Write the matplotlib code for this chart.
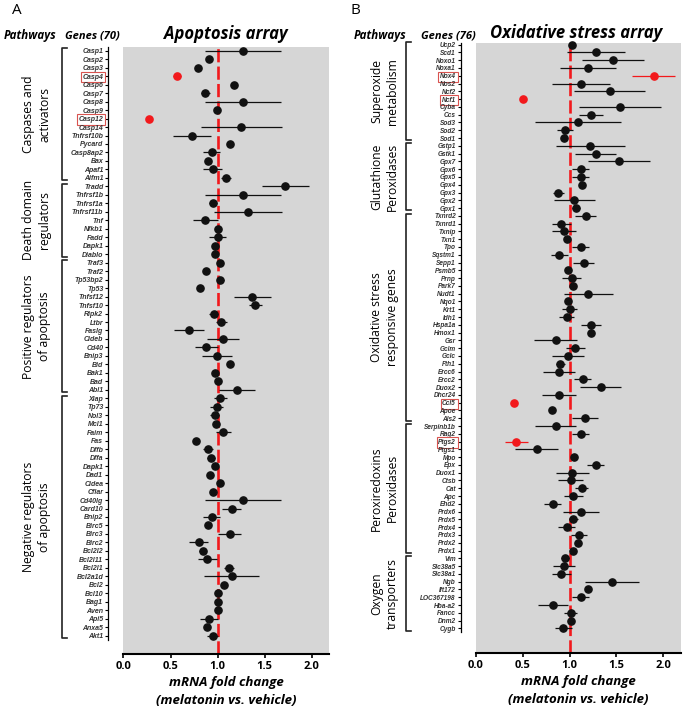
import numpy as np
import matplotlib
matplotlib.use('Agg')
import matplotlib.pyplot as plt

plt.rcParams['font.family'] = ['Open Sans', 'DejaVu Sans']

# ---------------- Apoptosis array (panel A) ----------------
apo_genes = ['Casp1', 'Casp2', 'Casp3', 'Casp4', 'Casp6', 'Casp7', 'Casp8', 'Casp9', 'Casp12', 'Casp14',
             'Tnfrsf10b', 'Pycard', 'Casp8ap2', 'Bax', 'Apaf1', 'Aifm1',
             'Tradd', 'Tnfrsf1b', 'Tnfrsf1a', 'Tnfrsf11b', 'Tnf', 'Nfkb1', 'Fadd', 'Dapk1', 'Diablo',
             'Traf3', 'Traf2', 'Tp53bp2', 'Tp53', 'Tnfsf12', 'Tnfsf10', 'Ripk2', 'Ltbr', 'Faslg', 'Cideb',
             'Cd40', 'Bnip3', 'Bid', 'Bak1', 'Bad', 'Abl1',
             'Xiap', 'Tp73', 'Nol3', 'Mcl1', 'Faim', 'Fas', 'Dffb', 'Dffa', 'Dapk1', 'Dad1', 'Cidea', 'Cflar',
             'Cd40lg', 'Card10', 'Bnip2', 'Birc5', 'Birc3', 'Birc2', 'Bcl2l2', 'Bcl2l11', 'Bcl2l1', 'Bcl2a1d',
             'Bcl2', 'Bcl10', 'Bag1', 'Aven', 'Api5', 'Anxa5', 'Akt1']
apo_fc = [1.27, 0.91, 0.79, 0.57, 1.17, 0.87, 1.27, 0.99, 0.27, 1.25,
          0.73, 1.13, 0.94, 0.90, 0.95, 1.09,
          1.72, 1.27, 0.95, 1.32, 0.87, 1.00, 1.00, 0.97, 0.97,
          1.03, 0.88, 1.03, 0.81, 1.37, 1.40, 0.96, 1.04, 0.70, 1.06,
          0.88, 0.99, 1.13, 0.97, 1.00, 1.21,
          1.03, 0.99, 0.97, 0.98, 1.06, 0.77, 0.90, 0.93, 0.97, 0.92, 1.03, 0.95,
          1.27, 1.15, 0.94, 0.90, 1.13, 0.80, 0.84, 0.89, 1.12, 1.15,
          1.07, 1.00, 1.01, 1.01, 0.91, 0.89, 0.95]
apo_err = [0.40, 0.00, 0.00, 0.04, 0.00, 0.05, 0.40, 0.00, 0.00, 0.43,
           0.20, 0.03, 0.09, 0.00, 0.10, 0.05,
           0.25, 0.40, 0.04, 0.36, 0.13, 0.00, 0.09, 0.00, 0.00,
           0.00, 0.00, 0.04, 0.00, 0.20, 0.07, 0.05, 0.06, 0.16, 0.17,
           0.12, 0.16, 0.00, 0.00, 0.00, 0.19,
           0.07, 0.07, 0.05, 0.00, 0.08, 0.00, 0.05, 0.04, 0.00, 0.00, 0.00, 0.00,
           0.40, 0.10, 0.09, 0.00, 0.12, 0.10, 0.04, 0.10, 0.05, 0.29,
           0.00, 0.00, 0.00, 0.00, 0.10, 0.00, 0.06]
apo_red = ['Casp4', 'Casp12']
apo_groups = [('Caspases and\nactivators', 16), ('Death domain\nregulators', 9),
              ('Positive regulators\nof apoptosis', 16), ('Negative regulators\nof apoptosis', 29)]

# ---------------- Oxidative stress array (panel B) ----------------
ox_genes = ['Ucp2', 'Scd1', 'Noxo1', 'Noxa1', 'Nox4', 'Nos2', 'Ncf2', 'Ncf1', 'Cyba', 'Ccs', 'Sod3', 'Sod2', 'Sod1',
            'Gstp1', 'Gstk1', 'Gpx7', 'Gpx6', 'Gpx5', 'Gpx4', 'Gpx3', 'Gpx2', 'Gpx1',
            'Txnrd2', 'Txnrd1', 'Txnip', 'Txn1', 'Tpo', 'Sqstm1', 'Sepp1', 'Psmb5', 'Prnp', 'Park7', 'Nudt1',
            'Nqo1', 'Krt1', 'Idh1', 'Hspa1a', 'Hmox1', 'Gsr', 'Gclm', 'Gclc', 'Fth1', 'Ercc6', 'Ercc2', 'Duox2',
            'Dhcr24', 'Ccl5', 'Apoe', 'Als2',
            'Serpinb1b', 'Rag2', 'Ptgs2', 'Ptgs1', 'Mpo', 'Epx', 'Duox1', 'Ctsb', 'Cat', 'Apc', 'Ehd2',
            'Prdx6', 'Prdx5', 'Prdx4', 'Prdx3', 'Prdx2', 'Prdx1',
            'Vim', 'Slc38a5', 'Slc38a1', 'Ngb', 'Ift172', 'LOC367198', 'Hba-a2', 'Fancc', 'Dnm2', 'Cygb']
ox_fc = [1.03, 1.28, 1.46, 1.20, 1.90, 1.12, 1.43, 0.50, 1.54, 1.23, 1.09, 0.95, 0.94,
         1.22, 1.28, 1.53, 1.12, 1.12, 1.13, 0.88, 1.05, 1.07,
         1.17, 0.91, 0.94, 0.97, 1.12, 0.89, 1.15, 0.98, 1.02, 1.04, 1.20,
         0.98, 1.00, 0.97, 1.23, 1.23, 0.85, 1.06, 0.98, 0.90, 0.89, 1.14, 1.33,
         0.89, 0.41, 0.81, 1.16,
         0.85, 1.12, 0.43, 0.65, 1.05, 1.28, 1.03, 1.01, 1.13, 1.04, 0.82,
         1.12, 1.04, 0.97, 1.10, 1.09, 1.04,
         0.95, 0.94, 0.91, 1.45, 1.20, 1.12, 0.82, 1.01, 1.01, 0.93]
ox_err = [0.00, 0.31, 0.33, 0.30, 0.23, 0.31, 0.38, 0.00, 0.44, 0.13, 0.46, 0.09, 0.00,
          0.37, 0.22, 0.33, 0.09, 0.09, 0.00, 0.06, 0.22, 0.04,
          0.11, 0.10, 0.13, 0.00, 0.09, 0.09, 0.11, 0.00, 0.10, 0.00, 0.26,
          0.00, 0.08, 0.08, 0.11, 0.00, 0.23, 0.10, 0.17, 0.05, 0.17, 0.09, 0.22,
          0.18, 0.00, 0.00, 0.14,
          0.22, 0.09, 0.12, 0.23, 0.00, 0.09, 0.18, 0.13, 0.07, 0.10, 0.09,
          0.19, 0.05, 0.09, 0.09, 0.00, 0.00,
          0.04, 0.12, 0.10, 0.29, 0.00, 0.09, 0.16, 0.07, 0.00, 0.09]
ox_red = ['Nox4', 'Ncf1', 'Ccl5', 'Ptgs2']
ox_groups = [('Superoxide\nmetabolism', 13), ('Glutathione\nPeroxidases', 9),
             ('Oxidative stress\nresponsive genes', 27), ('Peroxiredoxins\nPeroxidases', 17),
             ('Oxygen\ntransporters', 10)]

xticks = [0.0, 0.5, 1.0, 1.5, 2.0]
RED = '#f2191c'


def draw_panel(ax, genes, fc, err, red, groups, top_pad, bottom_pad, gene_fs, brk_x, lab_x):
    n = len(genes)
    y = np.arange(n)
    ax.set_facecolor('#d6d6d6')
    ax.axvline(1.0, color=RED, lw=1.9, linestyle=(0, (5, 1.6)), zorder=2)
    for i in range(n):
        c = RED if genes[i] in red else '#111111'
        ax.errorbar(fc[i], y[i], xerr=err[i], fmt='o', color=c, ecolor=c, ms=5.2,
                    elinewidth=0.9, capsize=0, zorder=3, clip_on=False)
    ax.set_xlim(0, 2.19)
    ax.set_ylim(n - 1 + bottom_pad, -top_pad)

    # axes look (Prism style)
    ax.spines['top'].set_visible(False)
    ax.spines['right'].set_visible(False)
    ax.spines['left'].set_position(('outward', 11))
    ax.spines['left'].set_bounds(-top_pad, n - 0.5)
    ax.spines['left'].set_linewidth(0.9)
    ax.spines['bottom'].set_linewidth(1.5)

    ax.set_yticks(y)
    ax.set_yticklabels(genes, fontsize=gene_fs, fontstyle='italic', fontweight='bold',
                       color='#333333', family=['Liberation Sans', 'DejaVu Sans'])
    ax.tick_params(axis='y', length=2.5, width=0.8, pad=1)
    ax.set_xticks(xticks)
    ax.set_xticklabels(['%.1f' % t for t in xticks], fontsize=8, fontweight='bold')
    ax.tick_params(axis='x', length=3, width=1.2, pad=2)
    ax.set_xlabel('mRNA fold change\n(melatonin vs. vehicle)', fontsize=9.5,
                  fontweight='bold', fontstyle='italic', labelpad=3, linespacing=1.5)

    # red boxes around the highlighted genes
    for lab in ax.get_yticklabels():
        if lab.get_text() in red:
            lab.set_bbox(dict(boxstyle='square,pad=0.25', fc='none', ec='#d9534f', lw=0.8))

    # pathway brackets
    tr = ax.get_yaxis_transform()
    start = 0
    for name, cnt in groups:
        y0 = start - 0.3
        y1 = start + cnt - 1 + 0.3
        ax.plot([brk_x + 0.025, brk_x, brk_x, brk_x + 0.025], [y0, y0, y1, y1],
                color='#222222', lw=1.2, transform=tr, clip_on=False)
        ax.text(lab_x, (y0 + y1) / 2, name, transform=tr, rotation=90, ha='center', va='center',
                fontsize=8.7, linespacing=1.3, multialignment='center')
        start += cnt


fig = plt.figure(figsize=(6.88, 7.11), dpi=100)
ax1 = fig.add_axes([0.1795, 0.0802, 0.2994, 0.8537])
ax2 = fig.add_axes([0.6919, 0.0812, 0.2980, 0.8580])

draw_panel(ax1, apo_genes, apo_fc, apo_err, apo_red, apo_groups, 0.44, 2.16, 5.0, -0.30, -0.42)
draw_panel(ax2, ox_genes, ox_fc, ox_err, ox_red, ox_groups, 0.18, 3.2, 4.7, -0.34, -0.445)

# headers
hy = 1 - 36 / 711
fig.text(12 / 688, 1 - 11 / 711, 'A', fontsize=11, va='center', ha='left')
fig.text(350 / 688, 1 - 11 / 711, 'B', fontsize=11, va='center', ha='left')
fig.text(30 / 688, hy, 'Pathways', fontsize=8.3, fontweight='bold', fontstyle='italic', ha='center', va='center')
fig.text(92 / 688, hy, 'Genes (70)', fontsize=8, fontweight='bold', fontstyle='italic', ha='center', va='center')
fig.text(226 / 688, 1 - 34 / 711, 'Apoptosis array', fontsize=12, fontweight='bold', fontstyle='italic',
         ha='center', va='center')
fig.text(380 / 688, hy, 'Pathways', fontsize=8.3, fontweight='bold', fontstyle='italic', ha='center', va='center')
fig.text(448 / 688, hy, 'Genes (76)', fontsize=8, fontweight='bold', fontstyle='italic', ha='center', va='center')
fig.text(576 / 688, 1 - 33 / 711, 'Oxidative stress array', fontsize=12, fontweight='bold', fontstyle='italic',
         ha='center', va='center')

plt.savefig('out.png', dpi=100)
